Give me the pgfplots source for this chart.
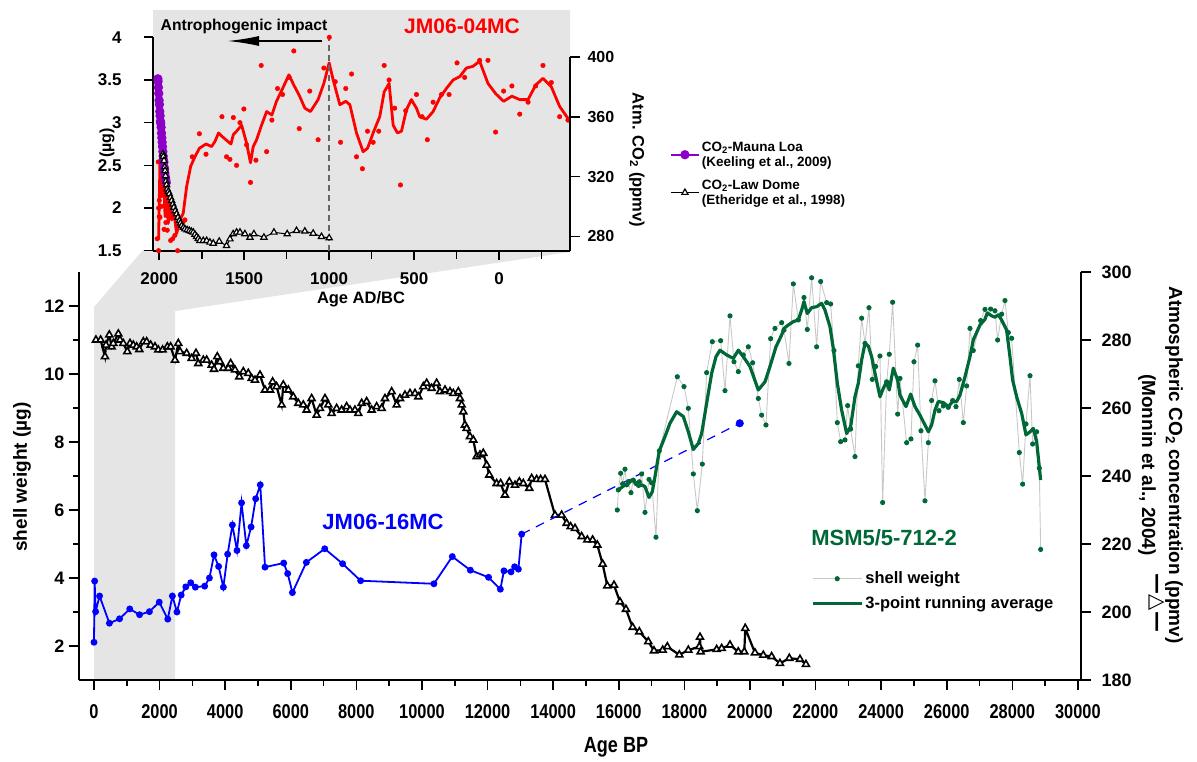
\documentclass[border=0pt]{standalone}
\usepackage{fontspec}
\setmainfont{Liberation Sans}
\newfontfamily\narrowfont[FakeStretch=0.82]{Liberation Sans}
\newfontfamily\dejavu{DejaVu Sans}
\usepackage{pgfplots}
\pgfplotsset{compat=1.18}
\usetikzlibrary{arrows.meta}
\definecolor{mygreen}{RGB}{0,104,55}
\definecolor{mypurple}{RGB}{140,0,200}
\definecolor{bandgray}{RGB}{229,229,229}
\definecolor{thingray}{RGB}{200,200,200}
\newcommand{\fs}[1]{\fontsize{#1}{#1}\selectfont}
\pgfplotsset{
  base/.style={
    scale only axis, anchor=south west, clip=false,
    tick align=outside,
    axis line style={-, line width=2pt, black},
    major tick length=10pt, minor tick length=6pt,
    tick style={black, line width=1.6pt},
    /pgf/number format/assume math mode=true,
    /pgf/number format/1000 sep={},
    scaled ticks=false,
  }
}
\begin{document}
\begin{tikzpicture}
\useasboundingbox (0pt,0pt) rectangle (1197pt,761pt);
\fill[bandgray] (94pt,81pt) -- (175pt,81pt) -- (175pt,450pt) -- (570pt,509pt) -- (570pt,751pt) -- (153pt,751pt) -- (153pt,511pt) -- (143pt,511pt) -- (94pt,454pt) -- cycle;

% ---------- main, right axis: CO2 (Monnin) ----------
\begin{axis}[base, at={(79pt,81pt)}, width=1002pt, height=408pt,
  xmin=-457, xmax=30094, ymin=180, ymax=300,
  axis x line=none, axis y line*=right,
  ytick={180,200,...,300},
  yticklabel style={font=\bfseries\fs{18}, xshift=7pt},
]
\addplot[black, line width=2.2pt, mark=triangle*, mark size=4pt, mark options={fill=white, line width=1.6pt, solid}] coordinates {
(60,280.0) (203,280.0) (335,275.1) (366,278.5) (467,281.5) (538,278.0) (589,279.0) (742,281.8) (793,280.0) (894,279.0)
(1016,276.6) (1098,279.0) (1199,278.5) (1301,278.0) (1382,277.2) (1504,279.5) (1606,279.5) (1728,278.5) (1860,278.0) (1961,277.1)
(2093,277.1) (2236,278.0) (2337,278.0) (2470,274.1) (2571,279.0) (2622,276.6) (2825,276.1) (2978,274.6) (3110,276.1) (3181,273.1)
(3333,274.1) (3435,274.1) (3587,272.6) (3659,271.4) (3760,275.1) (3841,273.6) (3943,271.7) (4096,271.7) (4167,273.1) (4299,271.2)
(4431,269.2) (4553,270.7) (4705,270.2) (4807,268.7) (4909,268.2) (5061,269.7) (5214,265.3) (5366,265.3) (5447,267.7) (5569,266.3)
(5722,260.9) (5772,266.8) (5925,265.3) (6077,263.3) (6230,261.4) (6382,260.9) (6484,259.4) (6636,262.8) (6789,257.9) (6890,259.9)
(7043,262.8) (7145,260.9) (7246,258.4) (7398,259.9) (7551,259.4) (7703,260.4) (7805,259.4) (7957,259.4) (8059,258.4) (8161,261.4)
(8313,261.9) (8466,259.4) (8618,260.4) (8771,259.9) (8872,262.8) (9076,264.8) (9228,260.9) (9330,262.8) (9482,263.8) (9635,264.3)
(9787,264.3) (9889,263.3) (10041,266.3) (10143,267.3) (10295,265.8) (10447,267.3) (10549,264.8) (10702,265.3) (10854,264.8) (10956,264.3)
(11108,264.8) (11159,262.8) (11210,260.9) (11260,258.9) (11311,255.0) (11362,254.0) (11464,251.6) (11565,250.6) (11667,245.7) (11769,246.2)
(11870,246.7) (11972,243.2) (12053,240.3) (12277,237.8) (12399,237.8) (12531,234.4) (12663,238.3) (12836,237.3) (12968,238.3) (13090,237.8)
(13273,236.4) (13344,239.3) (13497,239.0) (13619,239.0) (13751,239.0) (14056,228.5) (14259,228.5) (14411,226.1) (14533,225.1) (14666,224.6)
(14869,222.2) (15042,221.2) (15204,221.2) (15347,219.7) (15509,214.1) (15651,207.7) (15855,207.9) (16038,203.0) (16220,200.8) (16424,195.5)
(16627,194.2) (16901,191.3) (17074,188.6) (17339,188.8) (17481,189.8) (17847,187.4) (18121,188.8) (18456,189.8) (18477,192.6) (18497,188.3)
(18985,189.0) (19138,189.3) (19391,190.3) (19645,188.3) (19828,188.3) (19858,195.2) (20153,188.0) (20407,187.3) (20661,186.9) (20915,184.9)
(21200,186.4) (21525,186.1) (21708,184.6)
};
\end{axis}

% ---------- main, left axis: shell weights ----------
\begin{axis}[base, at={(79pt,81pt)}, width=1002pt, height=408pt,
  xmin=-457, xmax=30094, ymin=1, ymax=13,
  axis x line*=bottom, axis y line*=left,
  xtick={0,2000,...,30000}, minor xtick={1000,3000,...,29000},
  ytick={2,4,...,12}, minor ytick={3,5,...,11},
  xticklabel style={font=\narrowfont\bfseries\fs{20}, yshift=-11pt},
  yticklabel style={font=\bfseries\fs{18}, xshift=-1pt},
  legend style={at={(axis description cs:0.7275,0.275)}, anchor=north west, draw=none, fill=none,
    font=\bfseries\fs{16.5}, row sep=7pt, cells={anchor=west}},
  legend image code/.code={\draw[#1] (0pt,0pt) -- (49pt,0pt); \draw[#1] plot coordinates {(24.5pt,0pt)};},
]
\addplot[forget plot, blue, line width=1.8pt, mark=*, mark size=2.5pt] coordinates {
(0,2.11) (20,3.91) (50,3.01) (170,3.47) (470,2.67) (780,2.80) (1090,3.09) (1390,2.92) (1690,3.01) (1990,3.29)
(2250,2.79) (2390,3.47) (2530,3.00) (2660,3.50) (2800,3.74) (2950,3.86) (3090,3.73) (3375,3.76) (3520,4.00) (3660,4.68)
(3800,4.34) (3945,3.73) (4075,4.70) (4220,5.56) (4360,4.81) (4500,6.21) (4645,4.95) (4790,5.50) (4930,6.33) (5070,6.74)
(5215,4.32) (5785,4.44) (5905,4.13) (6050,3.57) (6475,4.46) (7035,4.86) (7580,4.42) (8130,3.92) (10365,3.83) (10925,4.63)
(11475,4.23) (12030,4.02) (12390,3.67) (12500,4.21) (12715,4.18) (12825,4.33) (12940,4.26) (13040,5.29)
};
\addplot[forget plot, blue, line width=1.2pt, dash pattern=on 9pt off 7pt] coordinates {(13040,5.29) (19690,8.55)};
\addplot[forget plot, blue, only marks, mark=*, mark size=3.8pt] coordinates {(19690,8.55)};
\addplot[thingray, line width=0.9pt, mark=*, mark size=2.1pt, mark options={fill=mygreen, draw=mygreen}] coordinates {
(15956,6.00) (15987,6.59) (16058,7.08) (16119,6.77) (16190,7.20) (16241,6.74) (16292,6.83) (16373,6.51) (16444,6.88) (16525,6.78)
(16627,6.83) (16698,7.06) (16800,5.93) (16922,6.90) (17003,6.80) (17135,5.20) (17237,7.74) (17786,9.92) (17989,9.63) (18121,8.99)
(18274,7.06) (18396,5.98) (18548,7.35) (18680,10.04) (18853,10.95) (19107,10.98) (19239,9.51) (19392,11.71) (19514,10.36) (19646,10.07)
(19798,10.56) (19951,10.80) (20083,10.33) (20256,9.28) (20357,8.79) (20489,8.50) (20631,11.04) (20763,11.34) (20967,11.51) (21038,11.29)
(21190,10.31) (21323,12.65) (21475,11.59) (21648,12.25) (21749,11.31) (21881,12.83) (22034,10.80) (22156,12.72) (22339,12.10) (22461,12.06)
(22562,10.69) (22664,8.57) (22766,8.01) (22898,8.06) (22979,9.07) (23070,8.38) (23203,7.57) (23304,10.24) (23406,11.64) (23508,10.90)
(23630,11.95) (23731,9.84) (23833,10.22) (23965,10.53) (24046,6.22) (24168,9.77) (24249,10.58) (24351,12.11) (24504,8.82) (24575,9.87)
(24778,7.98) (24910,8.09) (25001,10.36) (25114,10.85) (25215,8.33) (25337,6.27) (25439,7.98) (25540,9.22) (25642,9.80) (25764,8.92)
(25896,9.06) (26049,9.02) (26181,9.22) (26283,9.04) (26384,9.84) (26506,8.57) (26607,9.65) (26709,11.34) (26810,10.69) (27034,11.57)
(27166,11.90) (27339,11.91) (27471,11.86) (27552,11.00) (27674,11.76) (27776,12.16) (27878,11.22) (27980,11.05) (28213,7.69) (28315,6.76)
(28417,8.53) (28539,9.95) (28620,7.94) (28742,8.30) (28823,7.23) (28864,4.84)
};
\addlegendentry{shell weight}
\addplot[mygreen, line width=3.2pt, line join=round] coordinates {
(15987,6.59) (16139,6.70) (16292,6.78) (16394,6.88) (16495,6.83) (16597,6.69) (16698,6.74) (16800,6.69) (16922,6.37) (17024,6.54)
(17105,6.98) (17237,7.74) (17410,8.16) (17562,8.55) (17765,8.89) (17969,8.75) (18121,8.30) (18274,7.78) (18426,7.96) (18528,8.25)
(18680,9.14) (18833,10.02) (18965,10.51) (19087,10.70) (19290,10.56) (19493,10.46) (19646,10.70) (19798,10.51) (20001,10.22) (20255,9.53)
(20459,9.77) (20611,10.22) (20794,10.80) (20967,11.15) (21038,11.34) (21170,11.44) (21323,11.54) (21475,11.59) (21577,11.88) (21648,12.13)
(21749,11.78) (21881,11.95) (22034,11.98) (22186,12.08) (22288,11.88) (22440,11.39) (22542,10.75) (22664,9.73) (22796,8.94) (22949,8.25)
(23070,8.45) (23203,9.33) (23304,9.73) (23406,10.41) (23508,10.90) (23610,10.82) (23711,10.51) (23813,10.02) (23965,9.33) (24067,9.58)
(24168,9.77) (24249,9.53) (24371,10.17) (24504,9.82) (24575,9.38) (24758,9.04) (24900,9.41) (25032,9.04) (25184,8.79) (25337,8.50)
(25439,8.30) (25540,8.50) (25642,8.94) (25744,9.19) (25896,9.16) (26049,9.04) (26181,9.19) (26303,9.19) (26404,9.38) (26557,9.92)
(26709,10.51) (26810,11.00) (27014,11.44) (27166,11.61) (27237,11.80) (27370,11.71) (27471,11.67) (27572,11.74) (27674,11.59) (27827,11.29)
(27928,10.51) (28010,9.82) (28132,9.33) (28285,8.84) (28417,8.21) (28539,8.30) (28640,8.40) (28742,8.01) (28864,6.88)
};
\addlegendentry{3-point running average}
\end{axis}

% ---------- inset, left axis: JM06-04MC ----------
\begin{axis}[base, at={(153pt,510.3pt)}, width=417pt, height=213.4pt,
  x dir=reverse, xmin=-418, xmax=2037, ymin=1.5, ymax=4,
  axis x line*=bottom, axis y line*=left,
  axis line style={-, line width=2.3pt, black},
  xtick={0,500,...,2000}, minor xtick={-250,250,750,1250,1750},
  minor tick length=8pt, major tick length=9pt,
  ytick={1.5,2,...,4},
  xticklabel style={font=\bfseries\fs{17}, yshift=-9pt},
  yticklabel style={font=\bfseries\fs{17}, xshift=-19pt},
]
\addplot[red, only marks, mark=*, mark size=2.3pt] coordinates {
(2004,1.50) (2012,1.64) (2000,1.90) (1996,3.00) (2006,2.54) (2004,2.00) (1996,1.89) (1986,2.02) (2000,2.09) (1972,1.75)
(1961,1.83) (1947,1.90) (1953,1.74) (1933,1.62) (1921,1.64) (1908,1.68) (1892,1.50) (1859,1.84) (1849,1.86) (1806,2.60)
(1764,2.87) (1725,2.63) (1631,3.07) (1604,2.60) (1584,2.57) (1564,3.06) (1545,2.50) (1525,3.00) (1502,3.16) (1486,2.74)
(1463,2.30) (1431,2.56) (1400,3.67) (1368,2.66) (1337,3.03) (1304,3.40) (1274,3.33) (1235,3.53) (1208,3.84) (1176,2.93)
(1114,3.37) (1065,2.80) (1031,3.64) (999,4.00) (964,3.48) (933,2.77) (902,3.40) (868,3.57) (839,2.60) (804,2.46)
(774,2.90) (741,2.77) (708,2.90) (676,3.67) (647,3.50) (614,3.17) (580,2.27) (549,3.14) (486,3.33) (453,3.07) (422,2.80)
(388,3.24) (339,3.33) (294,3.33) (247,3.70) (202,3.53) (114,3.73) (65,3.73) (20,2.89) (-27,3.37) (-76,3.43)
(-122,3.10) (-171,3.24) (-216,3.43) (-259,3.67) (-308,3.47) (-357,3.07) (-406,3.03)
};
\addplot[red, line width=2.8pt, line join=round] coordinates {
(2004,1.63) (1996,2.54) (1986,2.13) (1976,2.49) (1966,1.90) (1957,2.25) (1947,1.82) (1937,2.09) (1927,1.86) (1913,1.94)
(1898,1.70) (1878,1.86) (1859,1.94) (1839,2.25) (1815,2.49) (1790,2.60) (1764,2.70) (1725,2.75) (1692,2.72) (1672,2.78)
(1651,2.88) (1631,2.84) (1608,2.80) (1578,2.75) (1564,2.86) (1545,2.90) (1515,2.97) (1486,2.76) (1463,2.53) (1447,2.72)
(1427,2.80) (1398,2.97) (1368,3.13) (1337,3.09) (1310,3.25) (1274,3.40) (1237,3.56) (1208,3.44) (1176,3.32) (1143,3.17)
(1110,3.13) (1065,3.27) (1031,3.46) (1000,3.70) (976,3.50) (937,3.21) (902,3.25) (878,3.21) (839,2.88) (800,2.66)
(774,2.70) (737,2.90) (702,3.07) (676,3.36) (647,3.46) (623,2.97) (598,2.88) (574,2.90) (545,3.15) (516,3.27)
(486,3.17) (467,3.07) (427,3.04) (388,3.13) (349,3.29) (310,3.40) (270,3.50) (231,3.54) (192,3.64) (153,3.66)
(114,3.72) (65,3.46) (20,3.34) (-27,3.25) (-76,3.31) (-122,3.27) (-171,3.27) (-216,3.44) (-259,3.52) (-308,3.42)
(-357,3.19) (-406,3.05)
};
\draw[gray!80!black, line width=1.6pt, dash pattern=on 6pt off 4pt] (axis cs:1000,1.5) -- (axis cs:1000,4.05);
\end{axis}

% ---------- inset, right axis: CO2 ----------
\begin{axis}[base, at={(153pt,510.3pt)}, width=417pt, height=213.4pt,
  x dir=reverse, xmin=-418, xmax=2037, ymin=270.4, ymax=413.4,
  axis x line=none, axis y line*=right, y axis line style={draw=none},
  ytick={280,320,360,400}, major tick length=10pt,
  yticklabel style={font=\bfseries\fs{16}, xshift=4pt},
  legend style={at={(axis description cs:1.232,0.53)}, anchor=north west, draw=none, fill=none,
    font=\bfseries\fontsize{13.5}{16}\selectfont, row sep=8pt, cells={anchor=west}},
  legend image code/.code={\draw[#1] (0pt,0pt) -- (28pt,0pt); \draw[#1] plot coordinates {(14pt,0pt)};},
]
\draw[line width=2.3pt] (axis description cs:1,0) -- (axis description cs:1,0.9063);
\addplot[mypurple, line width=2pt, mark=*, mark size=3.6pt] coordinates {
(1959,316.0) (1961,317.6) (1963,319.0) (1965,320.0) (1967,322.0) (1969,324.6) (1971,326.3) (1973,329.7) (1975,331.1) (1977,333.8)
(1979,336.8) (1981,340.1) (1983,343.1) (1985,346.1) (1987,349.2) (1989,353.1) (1991,355.6) (1993,357.1) (1995,360.8) (1997,363.7)
(1999,368.4) (2001,371.1) (2003,375.8) (2005,379.8) (2007,383.8) (2008,385.6)
};
\addlegendentry{\shortstack[l]{CO\textsubscript{2}-Mauna Loa\\(Keeling et al., 2009)}}
\addplot[black, line width=1pt, mark=triangle*, mark size=3.6pt, mark options={fill=white, line width=1.2pt}] coordinates {
(1978,335.2) (1976,333.5) (1972,330.7) (1968,326.5) (1966,324.0) (1963,320.5) (1961,317.0) (1957,314.5) (1953,311.7) (1947,310.0)
(1941,308.4) (1934,306.0) (1927,303.9) (1920,301.5) (1914,299.4) (1906,297.0) (1898,295.0) (1890,292.7) (1882,290.5) (1875,288.8)
(1868,287.1) (1858,286.0) (1849,284.9) (1836,284.3) (1823,283.8) (1811,283.2) (1800,282.7) (1790,281.3) (1780,279.8) (1770,278.5)
(1761,277.1) (1741,277.1) (1721,277.1) (1702,276.0) (1682,275.3) (1647,276.6) (1604,273.7) (1584,278.2) (1565,281.6) (1545,282.7)
(1525,282.7) (1496,281.6) (1466,279.3) (1443,281.6) (1384,279.3) (1325,282.7) (1247,281.6) (1192,283.8) (1143,283.4) (1094,282.0)
(1045,279.8) (1000,278.9)
};
\addlegendentry{\shortstack[l]{CO\textsubscript{2}-Law Dome\\(Etheridge et al., 1998)}}
\end{axis}

% ---------- annotations ----------
\draw[line width=2pt, -{Latex[length=32pt,width=10pt]}] (322pt,720pt) -- (227pt,720pt);
\node[font=\bfseries\fs{15.7}] at (244pt,735pt) {Antrophogenic impact};
\node[font=\bfseries\fs{21}, text=red] at (462pt,735pt) {JM06-04MC};
\node[font=\bfseries\fs{16.5}] at (361pt,462pt) {Age AD/BC};
\node[font=\bfseries\fs{16}, rotate=90] at (107pt,618pt) {(µg)};
\node[font=\bfseries\fs{16.5}, rotate=-90] at (637pt,601pt) {Atm. CO\textsubscript{2} (ppmv)};
\node[font=\bfseries\fs{19}, rotate=90] at (22pt,284pt) {shell weight (µg)};
\node[font=\narrowfont\bfseries\fs{22}] at (616pt,14pt) {Age BP};
\node[font=\bfseries\fs{19}, rotate=-90] at (1174pt,296pt) {Atmospheric CO\textsubscript{2} concentration (ppmv)};
\node[font=\bfseries\fs{19}, rotate=-90] at (1147pt,296pt) {(Monnin et al., 2004)};
\node[font=\dejavu\bfseries\fs{21}, rotate=-90] at (1157pt,158pt) {—△—};
\node[font=\bfseries\fs{22}, text=blue] at (383pt,239pt) {JM06-16MC};
\node[font=\bfseries\fs{22}, text=mygreen] at (884pt,223pt) {MSM5/5-712-2};
\end{tikzpicture}
\end{document}
